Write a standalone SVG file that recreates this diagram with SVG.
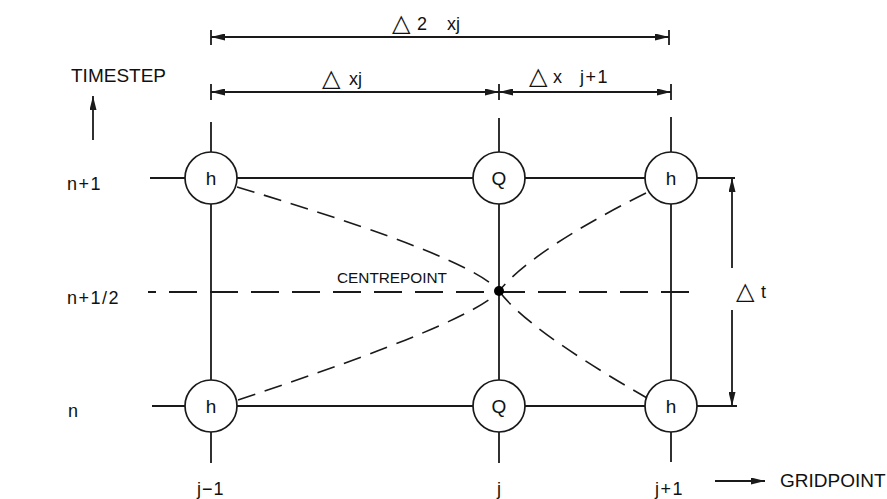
<svg xmlns="http://www.w3.org/2000/svg" width="887" height="499" viewBox="0 0 887 499">
<style>
.ln{stroke:#1a1a1a;stroke-width:1.8;fill:none}
.dash{stroke:#1a1a1a;stroke-width:1.8;fill:none;stroke-dasharray:28 13}
.dd{stroke:#1a1a1a;stroke-width:1.6;fill:none;stroke-dasharray:18 10}
.nd circle{fill:#fff;stroke:#1a1a1a;stroke-width:1.7}
.nd text{font-family:"Liberation Sans",Arial,sans-serif;font-size:19px;fill:#111;text-anchor:middle}
.lb{font-family:"Liberation Sans",Arial,sans-serif;font-size:18px;fill:#111}
.tri{font-family:"DejaVu Sans",sans-serif;font-size:24px;fill:#111}
</style>
<defs>
<marker id="ah" viewBox="0 0 14 7" refX="14" refY="3.5" markerWidth="14" markerHeight="7" markerUnits="userSpaceOnUse" orient="auto-start-reverse">
<path d="M0,0 L14,3.5 L0,7 z" fill="#1a1a1a"/>
</marker>
</defs>
<rect width="887" height="499" fill="#fff"/>
<g id="connectors">
<line class="ln" x1="150" y1="178" x2="735" y2="178"/>
<line class="ln" x1="152" y1="406" x2="737" y2="406"/>
<line class="ln" x1="211" y1="122" x2="211" y2="463"/>
<line class="ln" x1="499" y1="118" x2="499" y2="463"/>
<line class="ln" x1="671" y1="117" x2="671" y2="462"/>
<line class="dash" x1="148" y1="292" x2="700" y2="292" stroke-dashoffset="20"/>
<path class="dd" d="M237,187 Q471,257 499,291"/>
<path class="dd" d="M238,400 Q473,322 499,291"/>
<path class="dd" d="M646,193 Q534,249 499,291"/>
<path class="dd" d="M499,291 Q528,330 647,398"/>
<line class="ln" x1="211" y1="37" x2="669" y2="37" marker-start="url(#ah)" marker-end="url(#ah)"/>
<line class="ln" x1="211" y1="30" x2="211" y2="45"/>
<line class="ln" x1="669" y1="30" x2="669" y2="45"/>
<line class="ln" x1="211" y1="92" x2="499" y2="92" marker-start="url(#ah)" marker-end="url(#ah)"/>
<line class="ln" x1="499" y1="92" x2="671" y2="92" marker-start="url(#ah)" marker-end="url(#ah)"/>
<line class="ln" x1="211" y1="84" x2="211" y2="100"/>
<line class="ln" x1="499" y1="84" x2="499" y2="100"/>
<line class="ln" x1="671" y1="84" x2="671" y2="100"/>
<line class="ln" x1="732" y1="178" x2="732" y2="268" marker-start="url(#ah)"/>
<line class="ln" x1="732" y1="310" x2="732" y2="406" marker-end="url(#ah)"/>
<line class="ln" x1="93" y1="140" x2="93" y2="96" marker-end="url(#ah)"/>
<line class="ln" x1="715" y1="481" x2="765" y2="481" marker-end="url(#ah)"/>
</g>
<circle id="centrepoint" cx="499" cy="291" r="5" fill="#000"/>
<g id="node-h-jm1-n1" class="nd"><circle cx="211" cy="178" r="26"/><text x="211" y="185">h</text></g>
<g id="node-Q-j-n1" class="nd"><circle cx="499" cy="178" r="26"/><text x="499" y="185">Q</text></g>
<g id="node-h-jp1-n1" class="nd"><circle cx="671" cy="178" r="26"/><text x="671" y="185">h</text></g>
<g id="node-h-jm1-n" class="nd"><circle cx="211" cy="406" r="26"/><text x="211" y="413">h</text></g>
<g id="node-Q-j-n" class="nd"><circle cx="499" cy="406" r="26"/><text x="499" y="413">Q</text></g>
<g id="node-h-jp1-n" class="nd"><circle cx="671" cy="406" r="26"/><text x="671" y="413">h</text></g>
<g id="labels">
<text class="lb" x="71" y="82" style="font-size:19px">TIMESTEP</text>
<text class="lb" x="67" y="190" letter-spacing="1.5">n+1</text>
<text class="lb" x="67" y="304" letter-spacing="1.5">n+1/2</text>
<text class="lb" x="68" y="417">n</text>
<text class="lb" x="197" y="495" letter-spacing="1">j−1</text>
<text class="lb" x="497" y="495">j</text>
<text class="lb" x="655" y="495" letter-spacing="1.5">j+1</text>
<text class="lb" x="780" y="487" style="font-size:19px">GRIDPOINT</text>
<text class="lb" x="337" y="283" style="font-size:14px" textLength="110" lengthAdjust="spacingAndGlyphs">CENTREPOINT</text>
<text class="tri" x="392" y="31">△</text><text class="lb" x="417" y="30">2</text><text class="lb" x="447" y="30">xj</text>
<text class="tri" x="322" y="86">△</text><text class="lb" x="349" y="85">xj</text>
<text class="tri" x="529" y="84">△</text><text class="lb" x="553" y="83">x</text><text class="lb" x="580" y="83" letter-spacing="1.5">j+1</text>
<text class="tri" x="736" y="299">△</text><text class="lb" x="761" y="298">t</text>
</g>
</svg>
